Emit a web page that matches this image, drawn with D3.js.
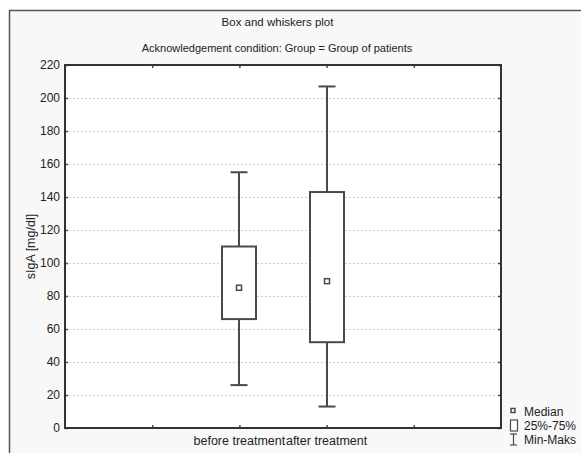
<!DOCTYPE html>
<html><head><meta charset="utf-8">
<script src="https://cdn.jsdelivr.net/npm/d3@7"></script>
<style>
html,body{margin:0;padding:0;background:#fff;}
svg{display:block;font-family:"Liberation Sans",Arial,sans-serif;}
</style></head>
<body>
<script>
const categories = ["before treatment", "after treatment"];
const minVals = [26, 13];
const q1Vals = [66, 52];
const medianVals = [85, 89];
const q3Vals = [110, 143];
const maxVals = [155, 207];
const yTicks = [0,20,40,60,80,100,120,140,160,180,200,220];
const xSlots = [1,2,3,4];
const catSlots = [2,3];

const W = 581, H = 453;
const svg = d3.select("body").append("svg").attr("width", W).attr("height", H);
const ink = "#4a4a4a";

svg.append("rect").attr("x",0).attr("y",0).attr("width",W).attr("height",H).attr("fill","#fff");
svg.append("rect").attr("x",9.5).attr("y",10.5).attr("width",620).attr("height",500)
  .attr("fill","#f8f8f8").attr("stroke","#555").attr("stroke-width",1.5);

const L = 65, R = 501, T = 65, B = 428;
const x = d3.scaleLinear().domain([0,5]).range([L,R]);
const y = d3.scaleLinear().domain([0,220]).range([B,T]);

svg.append("rect").attr("x",L).attr("y",T).attr("width",R-L).attr("height",B-T).attr("fill","#fff");

// gridlines
svg.append("g").selectAll("line").data(yTicks.filter(d=>d>0&&d<220)).join("line")
  .attr("x1",L).attr("x2",R).attr("y1",d=>y(d)+0.5).attr("y2",d=>y(d)+0.5)
  .attr("stroke","#cfcfcf").attr("stroke-width",1).attr("stroke-dasharray","2,2");

// axes
const gL = svg.append("g").attr("transform",`translate(${L},0)`)
  .call(d3.axisLeft(y).tickValues(yTicks).tickSize(-3).tickPadding(5));
const gR = svg.append("g").attr("transform",`translate(${R},0)`)
  .call(d3.axisRight(y).tickValues(yTicks).tickSize(-3).tickFormat(""));
const gT = svg.append("g").attr("transform",`translate(0,${T})`)
  .call(d3.axisTop(x).tickValues(xSlots).tickSize(-3).tickFormat(""));
const gB = svg.append("g").attr("transform",`translate(0,${B})`)
  .call(d3.axisBottom(x).tickValues(xSlots).tickSize(-3).tickFormat(""));
[gL,gR,gT,gB].forEach(g=>{
  g.select(".domain").remove();
  g.selectAll("line").attr("stroke",ink).attr("stroke-width",1.5);
  g.selectAll("text").attr("fill","#222").attr("font-size","12px").attr("font-family","Liberation Sans, Arial, sans-serif");
});
svg.append("rect").attr("x",L).attr("y",T).attr("width",R-L).attr("height",B-T)
  .attr("fill","none").attr("stroke","#333").attr("stroke-width",2);

// category labels
svg.append("g").selectAll("text").data(categories).join("text")
  .attr("x",(d,i)=>x(catSlots[i])).attr("y",445).attr("text-anchor","middle")
  .attr("font-size","12.5px").attr("fill","#222").text(d=>d);

// boxes
const bw = 34, cw = 17;
const g = svg.append("g").attr("stroke",ink).attr("stroke-width",2).attr("fill","none");
categories.forEach((c,i)=>{
  const cx = Math.round(x(catSlots[i]));
  g.append("line").attr("x1",cx).attr("x2",cx).attr("y1",y(maxVals[i])).attr("y2",y(q3Vals[i]));
  g.append("line").attr("x1",cx).attr("x2",cx).attr("y1",y(q1Vals[i])).attr("y2",y(minVals[i]));
  g.append("line").attr("x1",cx-cw/2).attr("x2",cx+cw/2).attr("y1",y(maxVals[i])).attr("y2",y(maxVals[i]));
  g.append("line").attr("x1",cx-cw/2).attr("x2",cx+cw/2).attr("y1",y(minVals[i])).attr("y2",y(minVals[i]));
  g.append("rect").attr("x",cx-bw/2).attr("y",y(q3Vals[i])).attr("width",bw)
    .attr("height",y(q1Vals[i])-y(q3Vals[i])).attr("fill","#fff");
  g.append("rect").attr("x",cx-2.5).attr("y",y(medianVals[i])-2.5).attr("width",5).attr("height",5)
    .attr("fill","#fff").attr("stroke-width",1.5);
});

// titles
svg.append("text").attr("x",277.5).attr("y",26).attr("text-anchor","middle")
  .attr("font-size","11.5px").attr("fill","#222").text("Box and whiskers plot");
svg.append("text").attr("x",277).attr("y",52).attr("text-anchor","middle")
  .attr("font-size","11px").attr("fill","#222").text("Acknowledgement condition: Group = Group of patients");
svg.append("text").attr("transform",`translate(35,${(T+B)/2}) rotate(-90)`).attr("text-anchor","middle")
  .attr("font-size","12.5px").attr("fill","#222").text("sIgA [mg/dl]");

// legend
const lg = svg.append("g");
lg.append("rect").attr("x",511).attr("y",408.5).attr("width",4).attr("height",4)
  .attr("fill","#fff").attr("stroke",ink).attr("stroke-width",1.5);
lg.append("rect").attr("x",510.5).attr("y",420).attr("width",7).attr("height",11)
  .attr("fill","#fff").attr("stroke",ink).attr("stroke-width",1.2);
lg.append("line").attr("x1",513.5).attr("x2",513.5).attr("y1",434).attr("y2",445).attr("stroke",ink).attr("stroke-width",1.2);
lg.append("line").attr("x1",510).attr("x2",517).attr("y1",434).attr("y2",434).attr("stroke",ink).attr("stroke-width",1.2);
lg.append("line").attr("x1",510).attr("x2",517).attr("y1",445).attr("y2",445).attr("stroke",ink).attr("stroke-width",1.2);
const legTexts = ["Median","25%-75%","Min-Maks"];
lg.selectAll("text.l").data(legTexts).join("text").attr("class","l")
  .attr("x",524).attr("y",(d,i)=>416+i*14).attr("font-size","12px").attr("fill","#222").text(d=>d);
</script>
</body></html>
